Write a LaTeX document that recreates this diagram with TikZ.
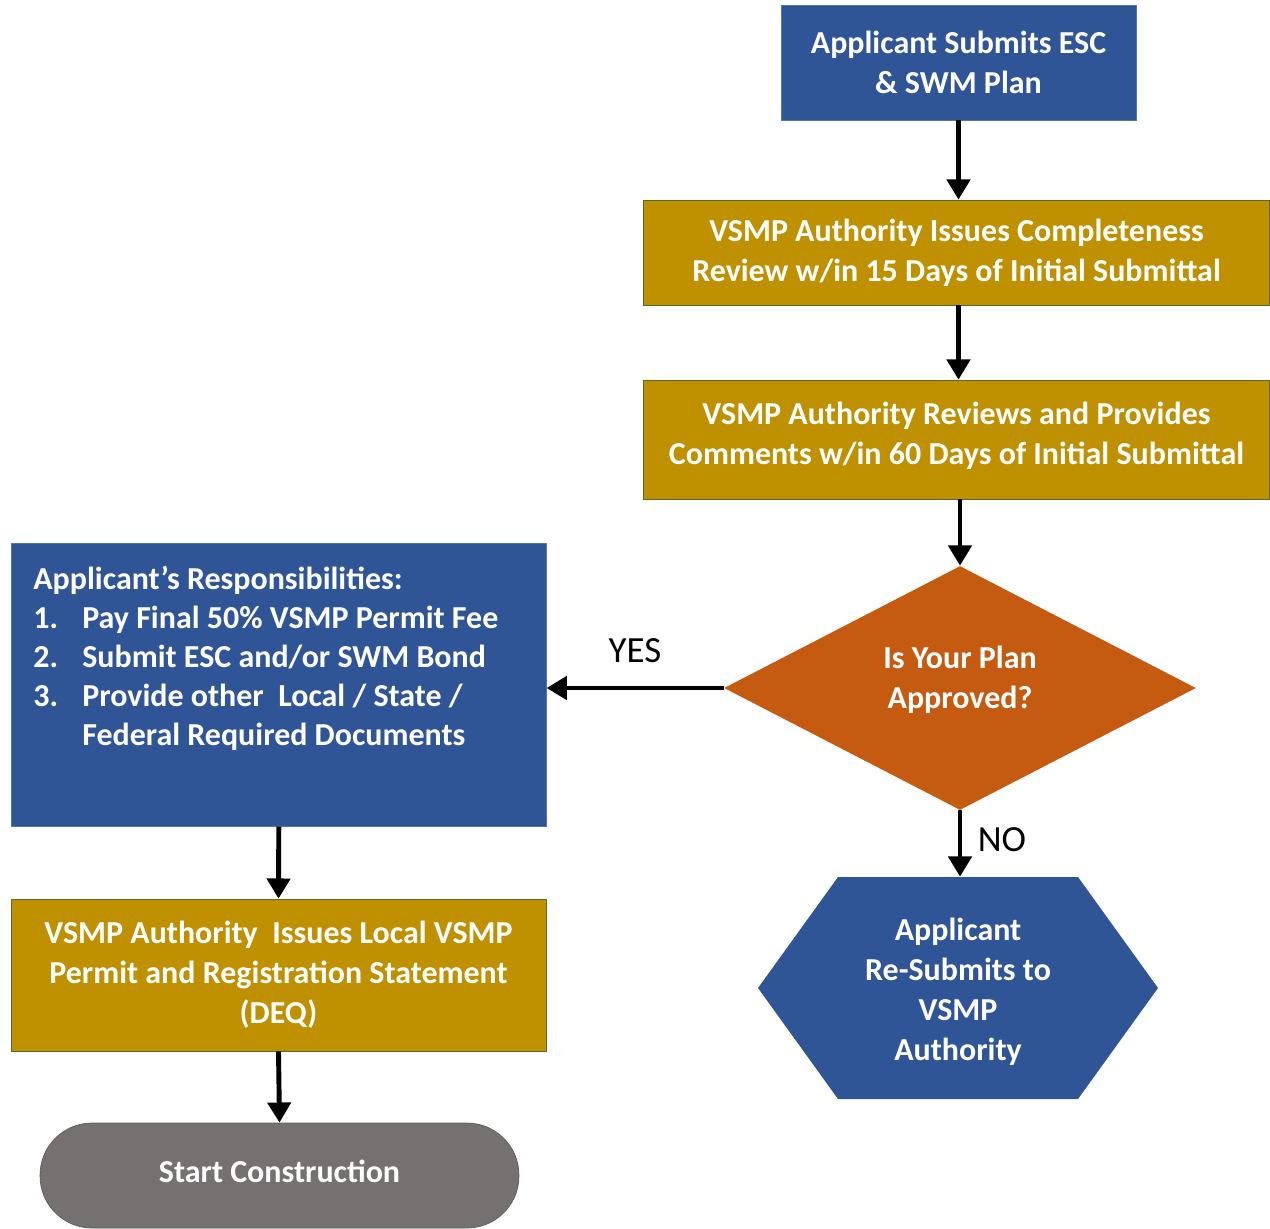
\documentclass[tikz,border=0pt]{standalone}
\usepackage{fontspec}
\setmainfont{Carlito}
\usetikzlibrary{positioning, shapes.geometric, arrows.meta}
\definecolor{stepBlue}{RGB}{47,85,151}
\definecolor{stepGold}{RGB}{191,144,0}
\definecolor{decisionOrange}{RGB}{197,90,17}
\definecolor{startGray}{RGB}{118,113,113}
\definecolor{blueEdge}{RGB}{80,120,165}
\definecolor{goldEdge}{RGB}{90,105,40}
\definecolor{grayEdge}{RGB}{90,90,90}
\tikzstyle{flowchart} = [x = 0.02cm, y = -0.02cm]
\tikzstyle{boxText} = [font=\fontsize{18.2}{22.8}\selectfont\bfseries, text=white, align=center, inner sep=0pt]
\tikzstyle{blueBox} = [boxText, fill=stepBlue, draw=blueEdge, thin]
\tikzstyle{goldBox} = [boxText, fill=stepGold, draw=goldEdge, thin]
\tikzstyle{flowArrow} = [line width=2.8pt, -{Triangle[width=13pt,length=11.5pt]}]
\tikzstyle{answerText} = [font=\fontsize{21}{25}\selectfont, inner sep=0pt]
\newcommand{\itemNo}[1]{\makebox[0.98cm][l]{#1}}
\newcommand{\liftText}[2]{\raisebox{#1}[0.5cm][0.5cm]{\begin{tabular}{@{}c@{}}#2\end{tabular}}}

\begin{document}
\begin{tikzpicture}[flowchart]
  \useasboundingbox (0,0) rectangle (1270,1228);

  \node[blueBox, minimum width=7.1cm, minimum height=2.3cm] (submit) at (958.5,62.5) {Applicant Submits ESC\\\& SWM Plan};
  \node[goldBox, minimum width=12.52cm, minimum height=2.1cm] (complete) at (956.5,252.5) {VSMP Authority Issues Completeness\\Review w/in 15 Days of Initial Submittal};
  \node[goldBox, minimum width=12.52cm, minimum height=2.38cm] (review) at (956.5,439.5) {\liftText{-0.09cm}{VSMP Authority Reviews and Provides\\Comments w/in 60 Days of Initial Submittal}};
  \node[diamond, boxText, fill=decisionOrange, minimum width=9.44cm, minimum height=4.88cm] (decision) at (960,688) {\liftText{0cm}{Is Your Plan\\Approved?}};

  \node[blueBox, anchor=north west, align=left, inner xsep=0.44cm, inner ysep=0.45cm] (resp) at (11,543)
    {\parbox[c][4.76cm][t]{9.82cm}{\fontsize{18.2}{22.2}\selectfont\bfseries
      Applicant’s Responsibilities:\\
      \itemNo{1.}Pay Final 50\% VSMP Permit Fee\\
      \itemNo{2.}Submit ESC and/or SWM Bond\\
      \itemNo{3.}Provide other~ Local / State /\\
      \hspace*{0.98cm}Federal Required Documents}};
  \node[goldBox, minimum width=10.7cm, minimum height=3.04cm] (permit) at (278.5,975) {VSMP Authority~ Issues Local VSMP\\Permit and Registration Statement\\(DEQ)};
  \node[boxText, fill=startGray, draw=grayEdge, thin, rounded corners=1.04cm, minimum width=9.58cm, minimum height=2.1cm] (start) at (279.5,1175.5) {\raisebox{0.18cm}{Start Construction}};

  \fill[stepBlue] (758,988) -- (838,877) -- (1078,877) -- (1158,988) -- (1078,1099) -- (838,1099) -- cycle;
  \node[boxText, minimum width=8cm, minimum height=4.6cm] (resubmit) at (958,992) {Applicant\\Re-Submits to\\VSMP\\Authority};

  \draw[flowArrow] (submit.south) -- (submit.south |- complete.north);
  \draw[flowArrow] (complete.south -| submit.south) -- (submit.south |- review.north);
  \draw[flowArrow] (decision.north |- review.south) -- (decision.north);
  \draw[flowArrow] (decision.west) -- (decision.west -| resp.east);
  \draw[flowArrow] (decision.south) -- (decision.south |- resubmit.north);
  \draw[flowArrow] (resp.south) -- (permit.north);
  \draw[flowArrow] (permit.south) -- (start.north);

  \node[answerText] (yesLabel) at (635,651) {YES};
  \node[answerText] (noLabel) at (1002,840) {NO};
\end{tikzpicture}
\end{document}
